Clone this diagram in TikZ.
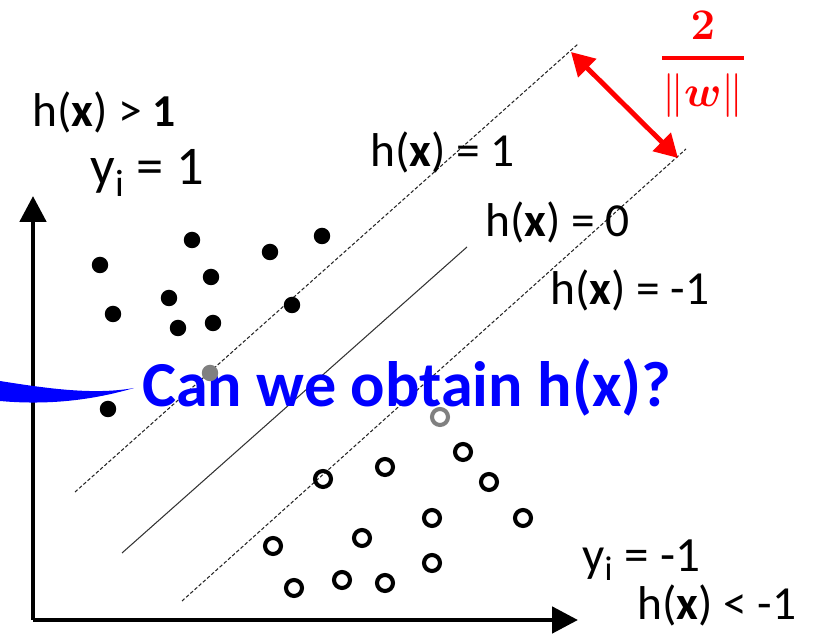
\documentclass[tikz,border=0pt]{standalone}
\usepackage{amsmath}
\usepackage[no-math]{fontspec}
\setmainfont{Carlito}
\usetikzlibrary{arrows.meta}

\begin{document}
\begin{tikzpicture}[
    x=0.02cm, y=-0.02cm,
    hlabel/.style={anchor=base west, inner sep=0pt, font=\fontsize{27}{30}\selectfont},
    question/.style={anchor=base west, inner sep=0pt, text=blue, font=\fontsize{36.5}{40}\selectfont\bfseries},
    posdot/.style={circle, fill=black, inner sep=0pt, minimum size=0.33cm},
    negdot/.style={circle, draw=black, line width=2.3pt, inner sep=0pt, minimum size=0.32cm},
    marginline/.style={black!85, line width=0.6pt, dash pattern=on 2pt off 1.2pt},
    boundary/.style={black!80, line width=0.6pt},
    axisline/.style={line width=2.8pt, -{Triangle[length=0.52cm, width=0.52cm]}},
    gaparrow/.style={red, line width=2.8pt,
        {Triangle[length=0.46cm, width=0.5cm]}-{Triangle[length=0.46cm, width=0.5cm]}}
]
\useasboundingbox (0,0) rectangle (816,634);

% axes
\coordinate (origin) at (33,620);
\coordinate (ytip) at (33,196);
\coordinate (xtip) at (578,620);
\draw[axisline] (origin) -- (ytip);
\draw[axisline] (origin) -- (xtip);

% h(x)=1, h(x)=0, h(x)=-1
\coordinate (upA) at (75,492);
\coordinate (upB) at (578,44);
\coordinate (midA) at (122,553);
\coordinate (midB) at (467,247);
\coordinate (lowA) at (182,601);
\coordinate (lowB) at (686,149);
\draw[marginline] (upA) -- (upB);
\draw[boundary] (midA) -- (midB);
\draw[marginline] (lowA) -- (lowB);

% margin width
\coordinate (gapA) at (571,52);
\coordinate (gapB) at (678,158);
\draw[gaparrow] (gapA) -- (gapB);
\node[text=red, inner sep=0pt, font=\fontsize{26}{30}\selectfont] (width) at (703,64)
    {$\genfrac{}{}{2.5pt}{0}{\mathbf{2}}{\|\boldsymbol{w}\|}$};

% labels
\node[hlabel] (hpos) at (32,127) {h(\textbf{x}) > {\fontsize{26}{28}\selectfont\textbf{1}}};
\node[hlabel, font=\fontsize{31}{34}\selectfont] (ypos) at (90,185) {y\textsubscript{i} = 1};
\node[hlabel] (hone) at (370,167) {h(\textbf{x}) = 1};
\node[hlabel] (hzero) at (485,237) {h(\textbf{x}) = 0};
\node[hlabel] (hmone) at (550,305) {h(\textbf{x}) = -1};
\node[hlabel, font=\fontsize{28}{31}\selectfont] (yneg) at (582,572) {y\textsubscript{i} = -1};
\node[hlabel] (hneg) at (637,620) {h(\textbf{x}) < -1};

% question
\fill[blue] (0,381) .. controls (50,389) and (95,395) .. (134,388)
    .. controls (100,398) and (55,406) .. (0,401) -- cycle;
\node[question] (ask) at (142,407) {Can we obtain h(x)?};

% class y=1
\node[posdot] (p1) at (100,265) {};
\node[posdot] (p2) at (192,240) {};
\node[posdot] (p3) at (270,252) {};
\node[posdot] (p4) at (322,236) {};
\node[posdot] (p5) at (211,277) {};
\node[posdot] (p6) at (169,298) {};
\node[posdot] (p7) at (113,314) {};
\node[posdot] (p8) at (178,328) {};
\node[posdot] (p9) at (213,323) {};
\node[posdot] (p10) at (292,305) {};
\node[posdot] (p11) at (108,409) {};
\node[posdot, fill=black!50] (p12) at (210,373) {};

% class y=-1
\node[negdot, draw=black!50] (n1) at (440,417) {};
\node[negdot] (n2) at (463,452) {};
\node[negdot] (n3) at (385,467) {};
\node[negdot] (n4) at (323,479) {};
\node[negdot] (n5) at (489,482) {};
\node[negdot] (n6) at (432,518) {};
\node[negdot] (n7) at (523,518) {};
\node[negdot] (n8) at (362,538) {};
\node[negdot] (n9) at (273,546) {};
\node[negdot] (n10) at (432,563) {};
\node[negdot] (n11) at (294,588) {};
\node[negdot] (n12) at (342,580) {};
\node[negdot] (n13) at (385,583) {};
\end{tikzpicture}
\end{document}
